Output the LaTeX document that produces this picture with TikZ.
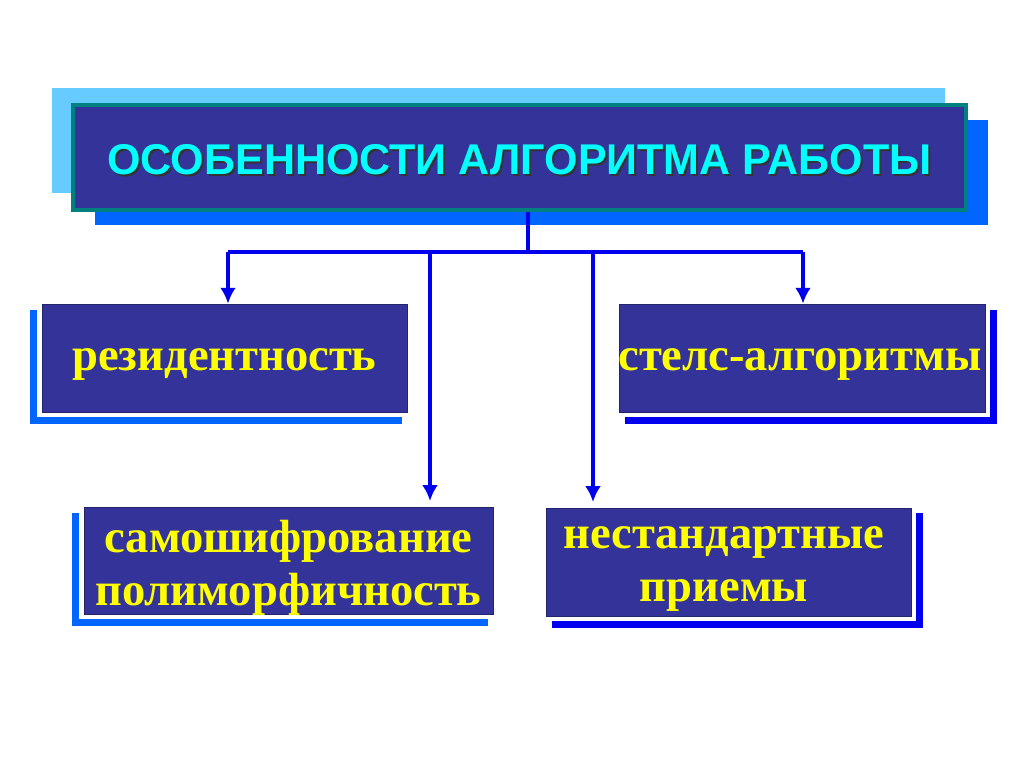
\documentclass[tikz,border=0pt]{standalone}
\usepackage{fontspec}
\setmainfont{Liberation Serif}
\newfontfamily\titlefont{Liberation Sans}
\usetikzlibrary{arrows.meta}
\definecolor{navy}{HTML}{333399}
\definecolor{lblue}{HTML}{66CCFF}
\definecolor{mblue}{HTML}{0066FF}
\definecolor{dblue}{HTML}{0000EE}
\definecolor{teal2}{HTML}{00807F}
\definecolor{cyantxt}{HTML}{00FFFF}
\definecolor{yel}{HTML}{FFFF00}
\begin{document}
\begin{tikzpicture}[x=0.02cm,y=-0.02cm,
  box/.style={fill=navy,draw=navy!70!black,line width=0.4pt,inner sep=0pt},
  lbl/.style={text=yel,font=\bfseries\fontsize{26.5}{30}\selectfont,align=center},
  conn/.style={draw=dblue,line width=1.8pt},
  arr/.style={conn,-{Latex[length=9pt,width=9pt]}}]
\useasboundingbox (0,0) rectangle (1024,767);
\fill[white] (0,0) rectangle (1024,767);
% title
\fill[lblue] (52,88) rectangle (945,193);
\fill[mblue] (95,120) rectangle (988,225);
\node[fill=navy,draw=teal2,line width=2pt,minimum width=893*0.02cm,minimum height=105*0.02cm,inner sep=0pt] (title) at (519.5,157.5) {};
\node[text=black!80,font=\titlefont\bfseries\fontsize{24.5}{28}\selectfont] at (521.5,161.5) {ОСОБЕННОСТИ АЛГОРИТМА РАБОТЫ};
\node[text=cyantxt,font=\titlefont\bfseries\fontsize{24.5}{28}\selectfont] (tt) at (519.5,159.5) {ОСОБЕННОСТИ АЛГОРИТМА РАБОТЫ};
% shadows
\fill[mblue] (30,310) rectangle (402,424); \fill[white] (37,310) rectangle (407,417);
\fill[dblue] (625,310) rectangle (997,424); \fill[white] (619,310) rectangle (990,417);
\fill[mblue] (72,513) rectangle (488,626); \fill[white] (79,513) rectangle (493,619);
\fill[dblue] (552,513) rectangle (923,628); \fill[white] (546,513) rectangle (916,621);
% boxes
\node[box,minimum width=365*0.02cm,minimum height=108*0.02cm] (b1) at (224.5,358) {};
\node[box,minimum width=366*0.02cm,minimum height=108*0.02cm] (b2) at (802,358) {};
\node[box,minimum width=409*0.02cm,minimum height=107*0.02cm] (b3) at (288.5,560.5) {};
\node[box,minimum width=365*0.02cm,minimum height=108*0.02cm] (b4) at (728.5,562) {};
\node[lbl] (t1) at (224.5,364) {резидентность};
\node[lbl] (t2) at (800,364) {стелс-алгоритмы};
\node[lbl] (t3) at (288.5,568) {самошифрование\\полиморфичность};
\node[lbl] (t4) at (724,569) {нестандартные\\приемы};
% connectors
\coordinate (j) at (528,252);
\coordinate (jl) at (228,252);
\coordinate (jr) at (803,252);
\coordinate (j3) at (430,252);
\coordinate (j4) at (593,252);
\draw[conn] (title.south -| j) -- (j);
\draw[conn] (jl) -- (jr);
\draw[arr] (jl) -- (jl |- b1.north);
\draw[arr] (jr) -- (jr |- b2.north);
\draw[arr] (j3) -- (430,501);
\draw[arr] (j4) -- (593,502);
\end{tikzpicture}
\end{document}
